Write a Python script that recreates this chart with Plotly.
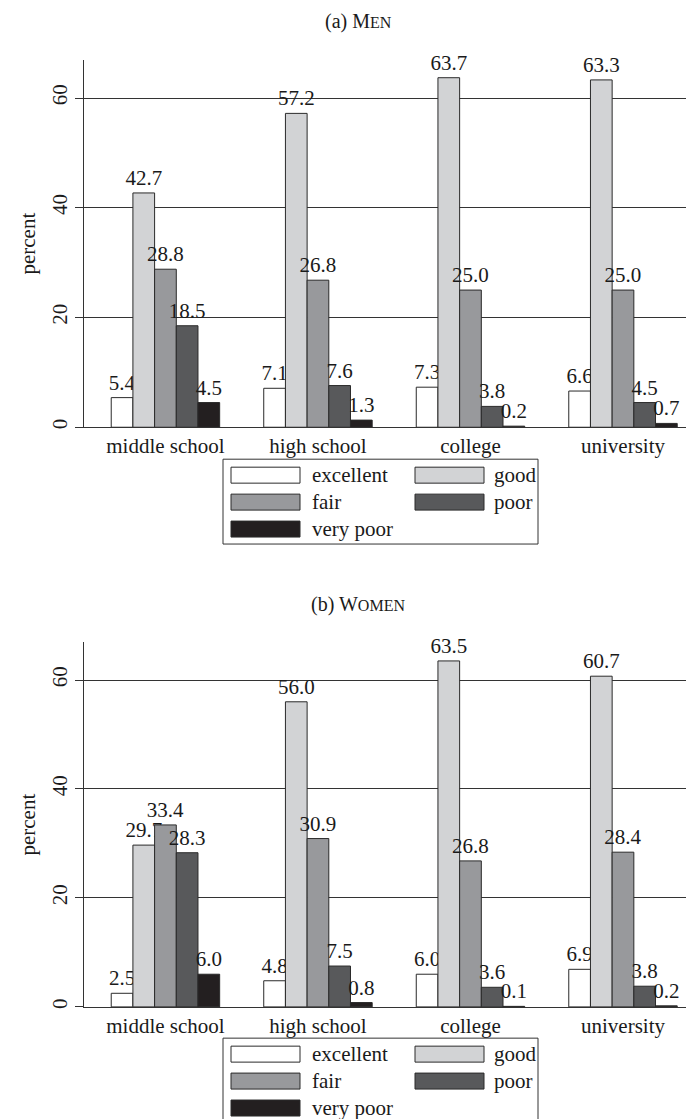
import plotly.graph_objects as go

categories = ["middle school", "high school", "college", "university"]
series = ["excellent", "good", "fair", "poor", "very poor"]

men_excellent = [5.4, 7.1, 7.3, 6.6]
men_good = [42.7, 57.2, 63.7, 63.3]
men_fair = [28.8, 26.8, 25.0, 25.0]
men_poor = [18.5, 7.6, 3.8, 4.5]
men_very_poor = [4.5, 1.3, 0.2, 0.7]

women_excellent = [2.5, 4.8, 6.0, 6.9]
women_good = [29.7, 56.0, 63.5, 60.7]
women_fair = [33.4, 30.9, 26.8, 28.4]
women_poor = [28.3, 7.5, 3.6, 3.8]
women_very_poor = [6.0, 0.8, 0.1, 0.2]

y_ticks = [0, 20, 40, 60]

colors = ["#ffffff", "#d2d3d5", "#98999c", "#58595b", "#231f20"]
FONT = "Liberation Serif"
W, H = 694, 1119

men = [men_excellent, men_good, men_fair, men_poor, men_very_poor]
women = [women_excellent, women_good, women_fair, women_poor, women_very_poor]
xpos = list(range(len(categories)))

fig = go.Figure()
for panel, (data, xa, ya) in enumerate([(men, "x", "y"), (women, "x2", "y2")]):
    for i, name in enumerate(series):
        fig.add_trace(go.Bar(
            x=xpos, y=data[i], name=name, xaxis=xa, yaxis=ya,
            marker=dict(color=colors[i], line=dict(color="#2a2a2a", width=1)),
            texttemplate="%{y:.1f}", textposition="outside",
            textfont=dict(family=FONT, size=21, color="#1a1a1a"),
            constraintext="none", cliponaxis=False,
            offsetgroup=str(i), showlegend=False,
        ))

xdom = [76 / W, 1.0]
top_dom = [1 - 420 / H, 1 - 51.7 / H]
bot_dom = [1 - 1000.7 / H, 1 - 635 / H]

xcommon = dict(
    domain=xdom, range=[-0.534, 3.518], tickvals=xpos, ticktext=categories,
    showline=True, linecolor="#333333", linewidth=1, ticks="", showgrid=False,
    zeroline=False, tickfont=dict(family=FONT, size=21, color="#1a1a1a"),
)
ycommon = dict(
    range=[0, 67], tickvals=y_ticks, showline=True, linecolor="#333333", linewidth=1,
    ticks="outside", ticklen=8, tickcolor="#333333", showgrid=True,
    gridcolor="#333333", gridwidth=1, zeroline=False, tickangle=-90,
    tickfont=dict(family=FONT, size=21, color="#1a1a1a"),
)
fig.update_layout(
    width=W, height=H, margin=dict(l=0, r=0, t=0, b=0),
    paper_bgcolor="white", plot_bgcolor="white",
    barmode="group", bargap=0.289, bargroupgap=0,
    font=dict(family=FONT, size=21, color="#1a1a1a"),
    xaxis=dict(anchor="y", **xcommon),
    xaxis2=dict(anchor="y2", **xcommon),
    yaxis=dict(domain=top_dom, anchor="x", **ycommon),
    yaxis2=dict(domain=bot_dom, anchor="x2", **ycommon),
)

annotations = []
shapes = []
# panel titles
for txt, py in [("(a) M<span style='font-size:16px'>EN</span>", 14),
                ("(b) W<span style='font-size:16px'>OMEN</span>", 598)]:
    annotations.append(dict(text=txt, x=350 / W, y=1 - py / H, xref="paper", yref="paper",
                            xanchor="center", yanchor="middle", showarrow=False,
                            font=dict(family=FONT, size=20, color="#1a1a1a")))
# y axis titles
for py in [236, 818]:
    annotations.append(dict(text="percent", x=20 / W, y=1 - py / H, xref="paper", yref="paper",
                            xanchor="center", yanchor="middle", showarrow=False, textangle=-90,
                            font=dict(family=FONT, size=21, color="#1a1a1a")))

# legends
for box_top in [452, 1032]:
    shapes.append(dict(type="rect", xref="paper", yref="paper",
                       x0=215 / W, x1=530 / W, y0=1 - box_top / H, y1=1 - (box_top + 85) / H,
                       line=dict(color="#333333", width=1), fillcolor="rgba(0,0,0,0)"))
    for idx, name in enumerate(series):
        col, row = idx % 2, idx // 2
        cy = box_top + 16 + 27 * row
        sx0 = [223, 407][col]
        tx = [302, 484][col]
        shapes.append(dict(type="rect", xref="paper", yref="paper",
                           x0=sx0 / W, x1=(sx0 + 69) / W,
                           y0=1 - (cy - 8) / H, y1=1 - (cy + 8) / H,
                           line=dict(color="#2a2a2a", width=1), fillcolor=colors[idx]))
        annotations.append(dict(text=name, x=tx / W, y=1 - cy / H, xref="paper", yref="paper",
                                xanchor="left", yanchor="middle", showarrow=False,
                                font=dict(family=FONT, size=21, color="#1a1a1a")))

fig.update_layout(annotations=annotations, shapes=shapes)
fig.write_html("out.html")
